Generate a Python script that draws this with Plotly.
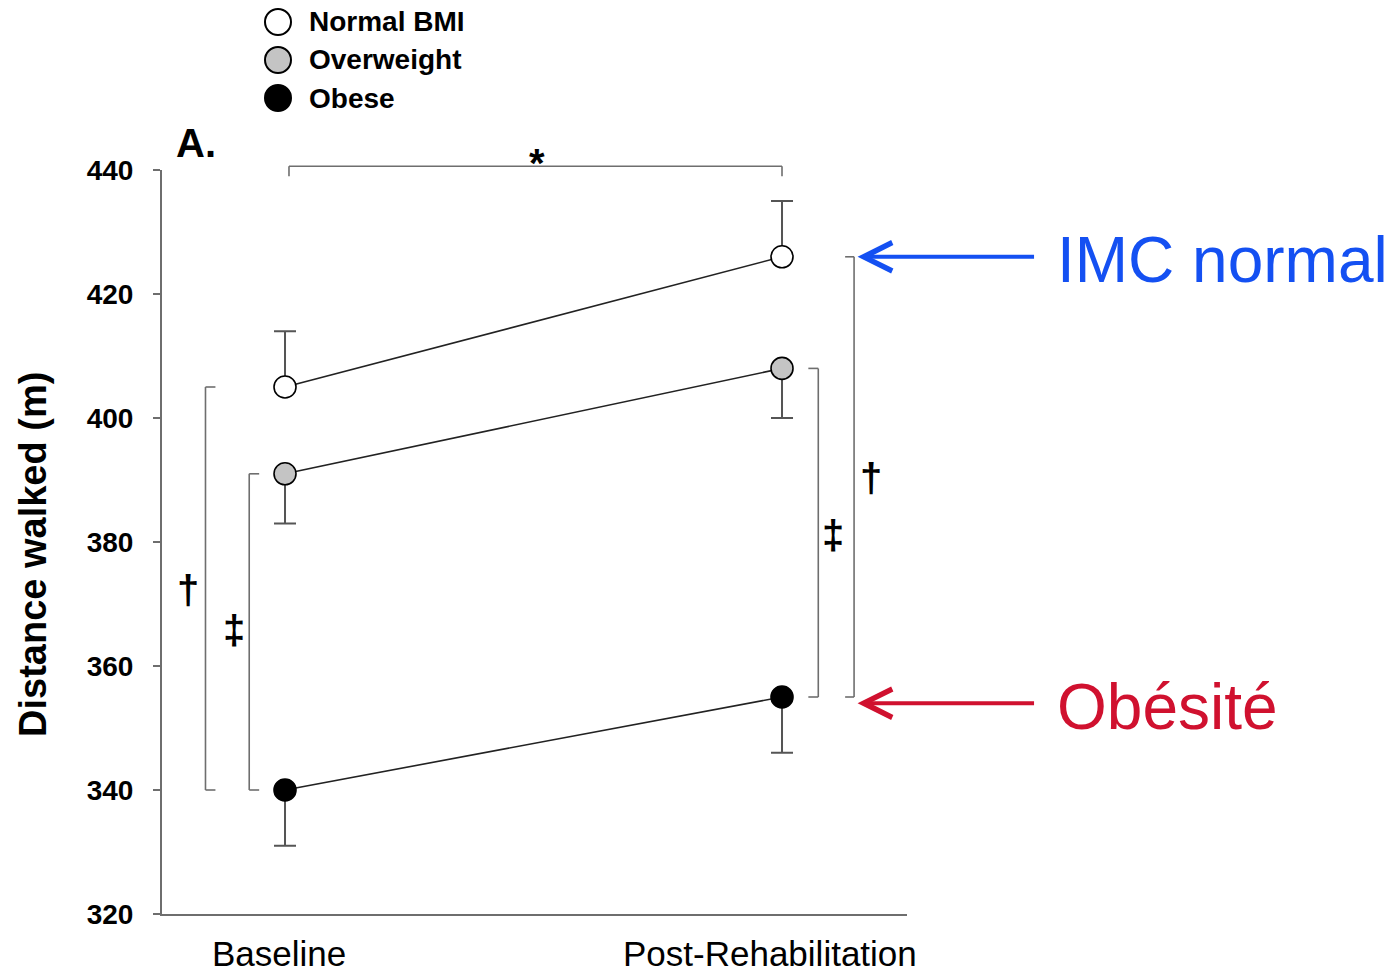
import plotly.graph_objects as go

# ---------------- data ----------------
categories = ["Baseline", "Post-Rehabilitation"]
x_pos = [0, 1]
groups = ["Normal BMI", "Overweight", "Obese"]
normal_bmi = [405, 426]
overweight = [391, 408]
obese = [340, 355]
normal_err_up = [9, 9]
overweight_err_down = [8, 8]
obese_err_down = [9, 9]
y_ticks = [320, 340, 360, 380, 400, 420, 440]

# ---------------- layout constants ----------------
W, H = 1394, 977
ML, MR, MT, MB = 162, 487, 170, 63
X0, X1 = -0.2475, 1.2515
Y0, Y1 = 320, 440
FONT = "Liberation Sans, Arial, Helvetica, sans-serif"
GRAY = "#6e6e6e"
BLUE = "#1450f2"
RED = "#d0112f"


def px(xd):
    return (xd - X0) / (X1 - X0)


def py(yd):
    return (yd - Y0) / (Y1 - Y0)


fig = go.Figure()

fills = ["white", "#c4c4c4", "black"]
series = [normal_bmi, overweight, obese]
errs = [
    dict(type="data", symmetric=False, array=normal_err_up, arrayminus=[0, 0]),
    dict(type="data", symmetric=False, array=[0, 0], arrayminus=overweight_err_down),
    dict(type="data", symmetric=False, array=[0, 0], arrayminus=obese_err_down),
]
for name, vals, fill, err in zip(groups, series, fills, errs):
    err.update(color="#555555", thickness=2, width=11)
    fig.add_trace(go.Scatter(
        x=x_pos, y=vals, name=name, mode="lines+markers",
        line=dict(color="#222222", width=1.6),
        marker=dict(size=22, color=fill, line=dict(color="black", width=1.6)),
        error_y=err, showlegend=False, cliponaxis=False,
    ))

shapes = []
annotations = []


def bracket(xs, xt, ya, yb, label, lx, ly):
    line = dict(color=GRAY, width=1.6)
    shapes.append(dict(type="line", xref="paper", yref="paper",
                       x0=px(xs), x1=px(xs), y0=py(ya), y1=py(yb), line=line))
    for yv in (ya, yb):
        shapes.append(dict(type="line", xref="paper", yref="paper",
                           x0=px(xs), x1=px(xt), y0=py(yv), y1=py(yv), line=line))
    annotations.append(dict(xref="paper", yref="paper", x=px(lx), y=py(ly),
                            xanchor="center", yanchor="middle",
                            text="<b>" + label + "</b>", showarrow=False,
                            font=dict(family=FONT, size=40, color="black")))


bracket(-0.160, -0.140, obese[0], normal_bmi[0], "†", -0.195, 372.3)
bracket(-0.072, -0.052, obese[0], overweight[0], "‡", -0.102, 365.8)
bracket(1.073, 1.053, obese[1], overweight[1], "‡", 1.103, 381.1)
bracket(1.145, 1.127, obese[1], normal_bmi[1], "†", 1.180, 390.3)

# top bracket (time effect)
tl = dict(color=GRAY, width=1.6)
shapes.append(dict(type="line", xref="paper", yref="paper",
                   x0=px(0.008), x1=px(1.0), y0=py(440.6), y1=py(440.6), line=tl))
for xv in (0.008, 1.0):
    shapes.append(dict(type="line", xref="paper", yref="paper",
                       x0=px(xv), x1=px(xv), y0=py(440.6), y1=py(439.0), line=tl))
annotations.append(dict(xref="paper", yref="paper", x=px(0.507), y=py(441.2),
                        xanchor="center", yanchor="middle",
                        text="<b>*</b>", showarrow=False,
                        font=dict(family=FONT, size=40, color="black")))

# category labels under the x axis
for xv, lab, shift in zip(x_pos, categories, [-6, -12]):
    annotations.append(dict(xref="x", yref="paper", x=xv, y=0, xshift=shift,
                            yshift=-39, xanchor="center", yanchor="middle",
                            showarrow=False, text=lab,
                            font=dict(family=FONT, size=35, color="black")))

# manual legend
leg_y = [22, 60, 98]
for name, fill, yy in zip(groups, fills, leg_y):
    yp = (H - MB - yy) / (H - MT - MB)
    xp = (278 - ML) / (W - ML - MR)
    shapes.append(dict(type="circle", xref="paper", yref="paper",
                       xsizemode="pixel", ysizemode="pixel",
                       xanchor=xp, yanchor=yp, x0=-13, x1=13, y0=-13, y1=13,
                       fillcolor=fill, line=dict(color="black", width=2)))
    annotations.append(dict(xref="paper", yref="paper",
                            x=(307 - ML) / (W - ML - MR), y=yp,
                            xanchor="left", yanchor="middle", showarrow=False,
                            text="<b>" + name + "</b>",
                            font=dict(family=FONT, size=28, color="black")))

# panel letter
annotations.append(dict(xref="paper", yref="paper",
                        x=(174 - ML) / (W - ML - MR), y=(H - MB - 143) / (H - MT - MB),
                        xanchor="left", yanchor="middle", showarrow=False,
                        text="<b>A.</b>", font=dict(family=FONT, size=40, color="black")))

# y-axis title
annotations.append(dict(xref="paper", yref="paper",
                        x=(33 - ML) / (W - ML - MR), y=(H - MB - 555) / (H - MT - MB),
                        xanchor="center", yanchor="middle", showarrow=False,
                        textangle=-90, text="<b>Distance walked (m)</b>",
                        font=dict(family=FONT, size=38, color="black")))

# arrows with French labels
for yv, col, txt, ty in [(normal_bmi[1], BLUE, "IMC normal", 260),
                         (354, RED, "Obésité", 707)]:
    annotations.append(dict(xref="paper", yref="paper", x=px(1.152), y=py(yv),
                            ax=178, ay=0, axref="pixel", ayref="pixel",
                            text="", showarrow=True, arrowhead=5, arrowsize=1.4,
                            arrowwidth=4, arrowcolor=col, standoff=0))
    annotations.append(dict(xref="paper", yref="paper",
                            x=(1055 - ML) / (W - ML - MR), y=(H - MB - ty) / (H - MT - MB),
                            xanchor="left", yanchor="middle", showarrow=False,
                            text=txt, font=dict(family=FONT, size=64, color=col)))

fig.update_layout(
    width=W, height=H,
    margin=dict(l=ML, r=MR, t=MT, b=MB),
    paper_bgcolor="white", plot_bgcolor="white",
    font=dict(family=FONT, color="black"),
    shapes=shapes, annotations=annotations,
    xaxis=dict(range=[X0, X1], tickvals=x_pos, showticklabels=False,
               showgrid=False, zeroline=False, showline=True,
               linecolor=GRAY, linewidth=2, ticks="", automargin=False,
               fixedrange=True),
    yaxis=dict(range=[Y0, Y1], tickvals=y_ticks, showgrid=False, zeroline=False,
               showline=True, linecolor=GRAY, linewidth=2, automargin=False,
               ticks="outside", ticklen=7, tickwidth=1.6, tickcolor=GRAY,
               tickfont=dict(family=FONT, size=28, color="black", weight="bold"),
               ticklabelstandoff=14, fixedrange=True),
    showlegend=False,
)

fig.write_html("out.html")
